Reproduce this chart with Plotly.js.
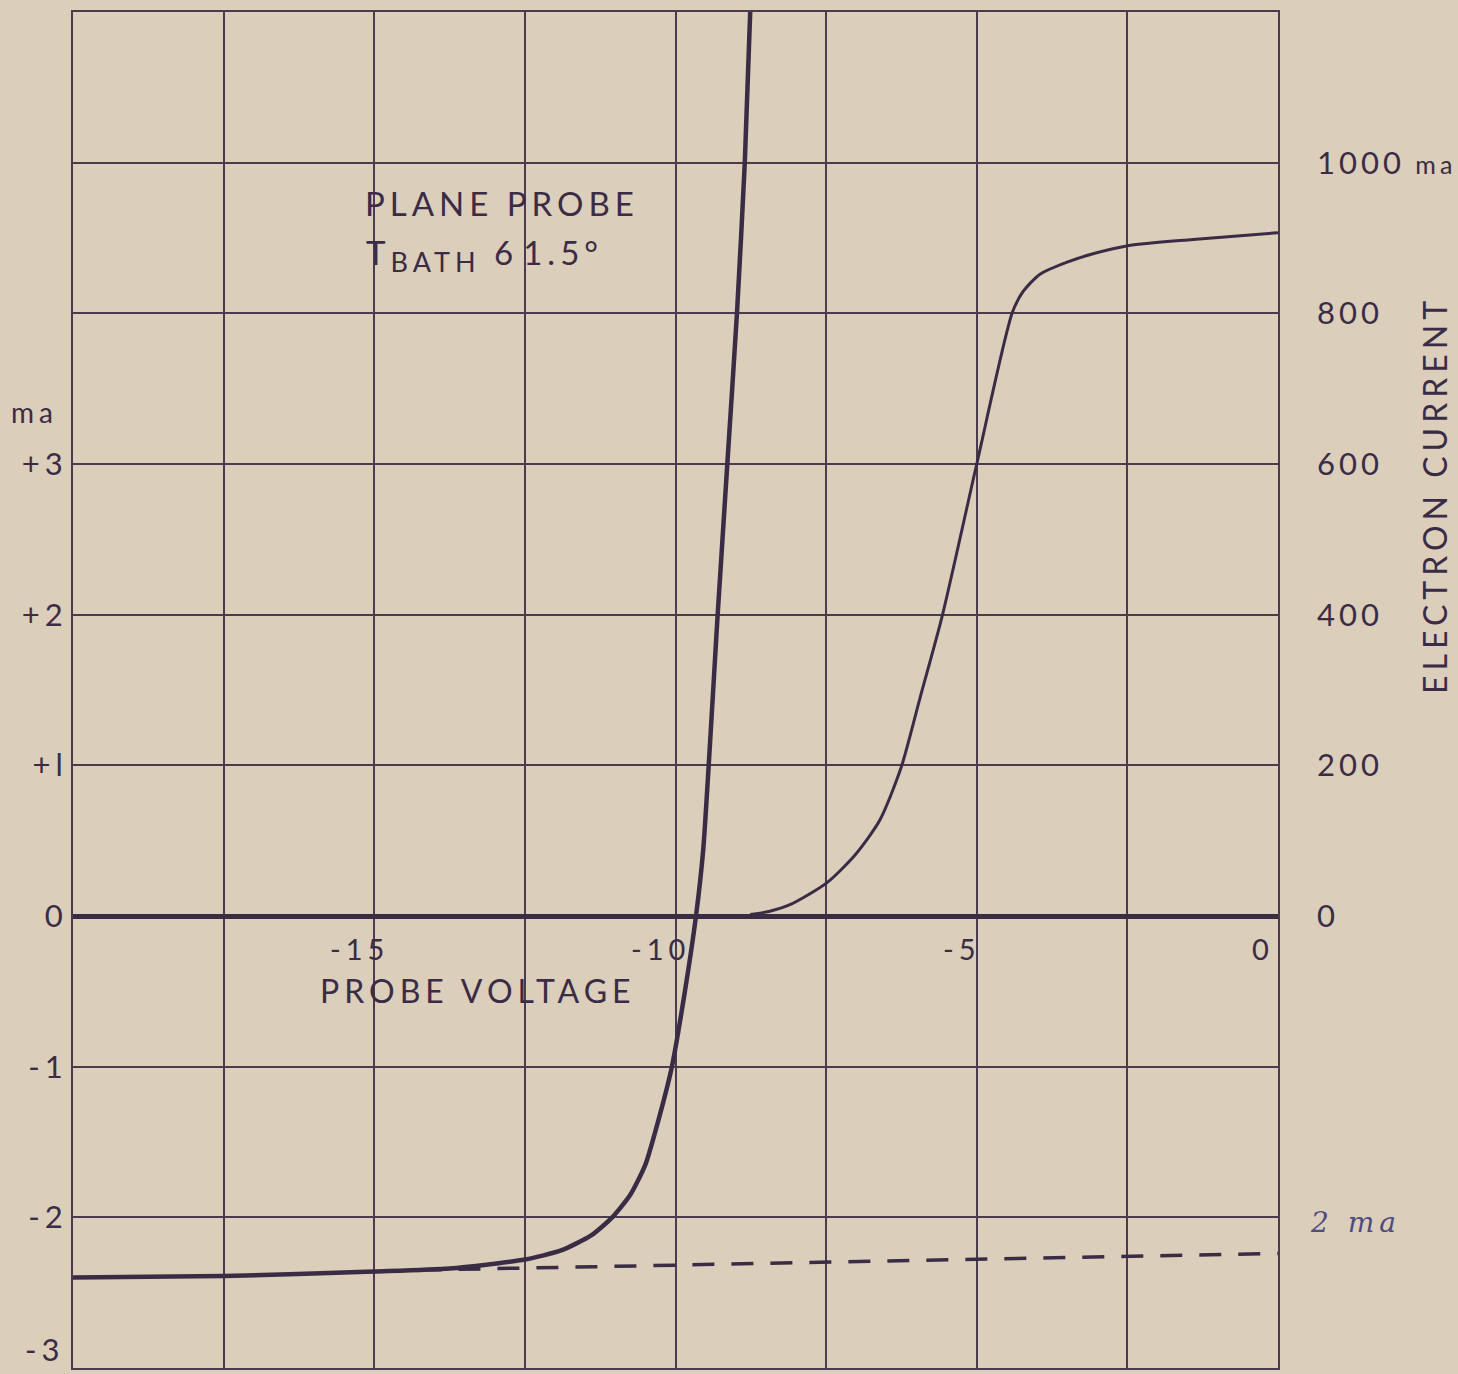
<!DOCTYPE html>
<html>
<head>
<meta charset="utf-8">
<script src="https://cdn.plot.ly/plotly-3.0.1.min.js"></script>
<style>
html,body{margin:0;padding:0;background:#dbcebb;}
text.annotation-text{letter-spacing:5px;}
.ytick text{letter-spacing:5px;}
.y2tick text{letter-spacing:4px;}
</style>
</head>
<body>
<div id="chart" style="width:1458px;height:1374px;"></div>
<script>
// Probe voltage (V) vs total probe current (ma, left axis)
const voltIon = [-20, -17.5, -15, -13.75, -12.5, -11.9, -11.4, -11.05, -10.75, -10.5, -10.26, -10.06, -9.84, -9.66, -9.54, -9.3, -9.14, -8.98, -8.85, -8.76];
const currIon = [-2.40, -2.39, -2.36, -2.34, -2.28, -2.22, -2.12, -2.0, -1.85, -1.65, -1.32, -1.0, -0.49, 0, 0.44, 2.0, 3.0, 4.0, 5.0, 6.0];
// Extrapolated ion saturation current (dashed)
const voltDash = [-14.25, 0];
const currDash = [-2.35, -2.24];
// Electron current (ma, right axis)
const voltElec = [-8.76, -8.45, -8.1, -7.49, -7.02, -6.61, -6.26, -5.94, -5.58, -5.0, -4.41, -4.23, -3.95, -3.5, -3.07, -2.47, -1.41, 0];
const currElec = [2, 6, 15, 44, 81, 127, 196, 290, 396, 600, 801, 829, 852, 868, 879, 890, 898, 907];

// Axis ticks
const xGridVals = [-20, -17.5, -15, -12.5, -10, -7.5, -5, -2.5, 0];
const xLabelVals = [-15, -10, -5, 0];
const xLabelText = ['-15', '-10', '-5', '0'];
const leftTickVals = [-2, -1, 0, 1, 2, 3];
const leftTickText = ['-2', '-1', '0', '+l', '+2', '+3'];
const leftExtraGrid = [4, 5];
const leftBottomVal = -3;
const leftBottomText = '-3';
const rightTickVals = [0, 200, 400, 600, 800, 1000];
const rightTickText = ['0', '200', '400', '600', '800', '1000<span style="font-size:25px"> ma</span>'];

const ink = '#3a2c45';
const gridInk = '#4a3c4c';
const font = 'Lato, "Open Sans", sans-serif';

const traces = [
  {x: voltIon, y: currIon, mode: 'lines', line: {color: ink, width: 4.5, shape: 'spline', smoothing: 0.6}, xaxis: 'x', yaxis: 'y', hoverinfo: 'skip'},
  {x: voltDash, y: currDash, mode: 'lines', line: {color: ink, width: 3.5, dash: '22px,17px'}, xaxis: 'x', yaxis: 'y', hoverinfo: 'skip'},
  {x: voltElec, y: currElec, mode: 'lines', line: {color: ink, width: 3, shape: 'spline', smoothing: 0.7}, xaxis: 'x', yaxis: 'y2', hoverinfo: 'skip'}
];

const annotations = xLabelVals.map((v, i) => ({
  x: v, y: 0, xref: 'x', yref: 'y', text: xLabelText[i], showarrow: false,
  xanchor: 'center', yanchor: 'middle', xshift: -15, yshift: -32,
  font: {family: font, size: 29, color: ink}
}));
annotations.push(
  {x: 0, y: leftBottomVal, xref: 'paper', yref: 'y', text: leftBottomText, showarrow: false,
   xanchor: 'right', yanchor: 'bottom', xshift: -6, yshift: -2, font: {family: font, size: 31, color: ink}},
  {x: 0.3365, y: 0.5, xref: 'paper', yref: 'paper', text: 'PROBE VOLTAGE', showarrow: false,
   xanchor: 'center', yanchor: 'middle', yshift: -(990 - 690), font: {family: font, size: 32, color: ink}},
  {x: 0.356, y: 1, xref: 'paper', yref: 'paper', text: 'PLANE PROBE', showarrow: false,
   xanchor: 'center', yanchor: 'middle', yshift: -(203 - 12), font: {family: font, size: 33, color: ink}},
  {x: 0.2415, y: 1, xref: 'paper', yref: 'paper', text: 'T<sub><span style="font-size:27px">BATH</span></sub> <span style="letter-spacing:10px">6</span>1.5°', showarrow: false,
   xanchor: 'left', yanchor: 'middle', yshift: -(255 - 12), font: {family: font, size: 33, color: ink}},
  {x: 0, y: 1, xref: 'paper', yref: 'paper', text: 'ma', showarrow: false,
   xanchor: 'center', yanchor: 'middle', xshift: -39, yshift: -(412 - 12), font: {family: font, size: 28, color: ink}},
  {x: 1, y: 1, xref: 'paper', yref: 'paper', text: 'ELECTRON CURRENT', showarrow: false, textangle: -90,
   xanchor: 'center', yanchor: 'middle', xshift: 1434 - 1278, yshift: -(495 - 12), font: {family: font, size: 32, color: ink}},
  {x: 1, y: 0, xref: 'paper', yref: 'paper', text: '2 ma', showarrow: false,
   xanchor: 'center', yanchor: 'middle', xshift: 1355 - 1278, yshift: 1368 - 1222,
   font: {family: '"DejaVu Serif", serif', size: 28, color: '#4f4c80', style: 'italic'}}
);

const layout = {
  width: 1458, height: 1374,
  margin: {l: 73, r: 180, t: 12, b: 6},
  paper_bgcolor: '#dbcebb', plot_bgcolor: '#dbcebb',
  showlegend: false,
  xaxis: {range: [-20, 0], tickvals: xGridVals, showticklabels: false, ticks: '',
          showgrid: true, gridcolor: gridInk, gridwidth: 2, zeroline: false,
          showline: true, mirror: true, linecolor: gridInk, linewidth: 2, fixedrange: true},
  yaxis: {range: [-3, 6], tickvals: leftTickVals, ticktext: leftTickText, ticks: '',
          ticklabelstandoff: -3, tickfont: {family: font, size: 31, color: ink},
          showgrid: true, gridcolor: gridInk, gridwidth: 2,
          minor: {tickvals: leftExtraGrid, showgrid: true, gridcolor: gridInk, gridwidth: 2, ticks: ''},
          zeroline: true, zerolinecolor: ink, zerolinewidth: 5,
          showline: true, mirror: true, linecolor: gridInk, linewidth: 2, fixedrange: true},
  yaxis2: {range: [-600, 1200], overlaying: 'y', side: 'right', tickvals: rightTickVals, ticktext: rightTickText,
           ticks: '', ticklabelstandoff: 38, tickfont: {family: font, size: 31, color: ink},
           showgrid: false, zeroline: false, showline: false, fixedrange: true},
  annotations: annotations
};

Plotly.newPlot('chart', traces, layout, {staticPlot: true, displayModeBar: false});
</script>
</body>
</html>
